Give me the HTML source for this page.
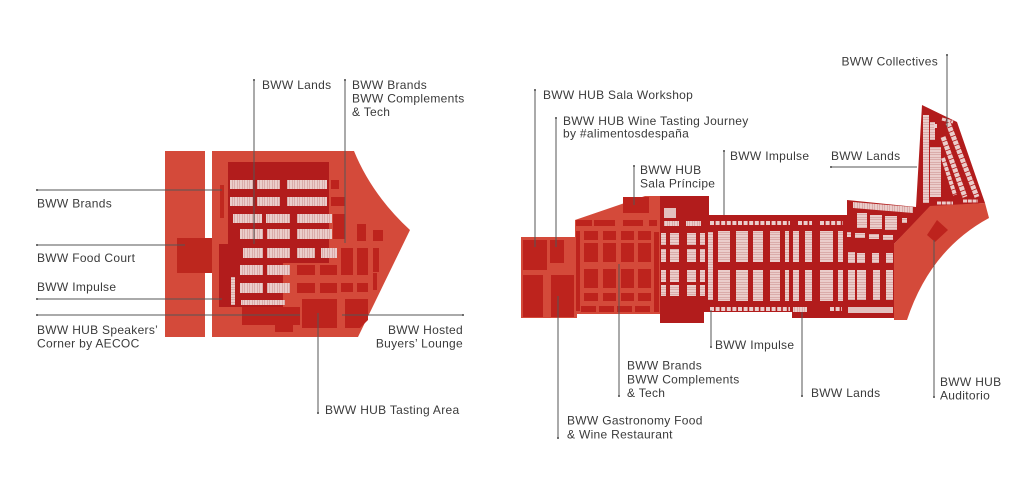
<!DOCTYPE html>
<html><head><meta charset="utf-8"><style>
html,body{margin:0;padding:0;background:#fff;}
svg{display:block;}
text{font-family:"Liberation Sans",sans-serif;font-size:12px;fill:#3a3a3a;letter-spacing:0.3px;}
</style></head><body>
<svg width="1024" height="493" viewBox="0 0 1024 493" xmlns="http://www.w3.org/2000/svg">
<defs>
<pattern id="sv" width="2.5" height="10" patternUnits="userSpaceOnUse"><rect width="2.5" height="10" fill="#ebcdcb"/><rect x="2" width="0.5" height="10" fill="#c98c88"/></pattern>
<pattern id="sh" width="10" height="2.5" patternUnits="userSpaceOnUse"><rect width="10" height="2.5" fill="#ebcdcb"/><rect y="2" width="10" height="0.5" fill="#c98c88"/></pattern>
</defs>
<rect width="1024" height="493" fill="#fff"/>

<!-- LEFT MAP -->
<rect x="165" y="151" width="40" height="186" fill="#d44a3a"/>
<path d="M212,151 L354,151 Q372,195 410,230 L358,337 L212,337 Z" fill="#d44a3a"/>
<rect x="177" y="238" width="35" height="35" fill="#bd271e"/>
<path d="M228,162 L329,162 L329,263 L283,263 L283,307 L219,307 L219,244 L228,244 Z" fill="#b21c1c"/>
<rect x="220" y="185" width="4" height="33" fill="#c0281f"/>
<rect x="231" y="277" width="4" height="28" fill="url(#sh)"/>
<g fill="url(#sv)">
<rect x="230" y="180" width="23" height="9"/><rect x="257" y="180" width="23" height="9"/><rect x="287" y="180" width="40" height="9"/>
<rect x="230" y="197" width="23" height="9"/><rect x="257" y="197" width="23" height="9"/><rect x="287" y="197" width="40" height="9"/>
<rect x="233" y="214" width="29" height="9"/><rect x="266" y="214" width="24" height="9"/><rect x="297" y="214" width="35" height="9"/>
<rect x="240" y="229" width="23" height="10"/><rect x="267" y="229" width="23" height="10"/><rect x="297" y="229" width="35" height="10"/>
<rect x="243" y="248" width="20" height="10"/><rect x="267" y="248" width="23" height="10"/><rect x="297" y="248" width="18" height="10"/><rect x="321" y="248" width="16" height="10"/>
<rect x="240" y="265" width="23" height="10"/><rect x="267" y="265" width="23" height="10"/>
<rect x="240" y="283" width="23" height="10"/><rect x="267" y="283" width="23" height="10"/>
<rect x="241" y="300" width="44" height="5"/>
</g>
<g fill="#bd231d">
<rect x="331" y="180" width="8" height="9"/>
<rect x="331" y="197" width="14" height="9"/>
<rect x="333" y="214" width="12" height="25"/>
<rect x="357" y="224" width="9" height="17"/>
<rect x="373" y="230" width="10" height="11"/>
<rect x="341" y="248" width="12" height="27"/>
<rect x="357" y="248" width="11" height="27"/>
<rect x="373" y="248" width="6" height="24"/>
<rect x="297" y="265" width="18" height="10"/>
<rect x="320" y="265" width="17" height="10"/>
<rect x="297" y="283" width="18" height="10"/>
<rect x="320" y="283" width="17" height="10"/>
<rect x="341" y="283" width="12" height="9"/>
<rect x="357" y="283" width="11" height="9"/>
<rect x="373" y="273" width="4" height="17"/>
<rect x="302" y="299" width="35" height="29"/>
<path d="M345,299 L368,299 L368,320 L360,328 L345,328 Z"/>
<rect x="242" y="307" width="58" height="18"/>
<rect x="275" y="319" width="18" height="13"/>
</g>

<!-- RIGHT MAP -->
<rect x="521" y="237" width="56" height="81" fill="#d44a3a"/>
<path d="M575,220 L645,196 L662,196 L662,314 L575,314 Z" fill="#d44a3a"/>
<path d="M660,196 L709,196 L709,215 L847,215 L847,200 L916,207 L922,105 L957,122 L985,203 L930,207 L894,244 L894,318 L792,318 L792,312 L704,312 L704,323 L660,323 Z" fill="#b21c1c"/>
<path d="M930,206 L985,203 L989,218 Q930,250 907,320 L894,320 L894,244 Z" fill="#d44a3a"/>
<polygon points="937,220 948,230 935,242 927,235" fill="#bd231d"/>

<g fill="#bd231d">
<rect x="523" y="240" width="24" height="30"/>
<rect x="550" y="240" width="14" height="23"/>
<rect x="523" y="275" width="20" height="42"/>
<rect x="551" y="275" width="23" height="42"/>
<rect x="623" y="197" width="26" height="16"/>
<rect x="576" y="220" width="16" height="6"/><rect x="594" y="220" width="21" height="6"/><rect x="623" y="220" width="20" height="6"/><rect x="649" y="220" width="8" height="6"/>
<rect x="576" y="231" width="4" height="80"/>
<rect x="654" y="232" width="5" height="80"/>
<rect x="584" y="231" width="14" height="9"/><rect x="603" y="231" width="13" height="9"/><rect x="621" y="231" width="13" height="9"/><rect x="638" y="231" width="13" height="9"/>
<rect x="584" y="243" width="14" height="19"/><rect x="603" y="243" width="13" height="19"/><rect x="621" y="243" width="13" height="19"/><rect x="638" y="243" width="13" height="19"/>
<rect x="584" y="269" width="14" height="19"/><rect x="603" y="269" width="13" height="19"/><rect x="621" y="269" width="13" height="19"/><rect x="638" y="269" width="13" height="19"/>
<rect x="584" y="293" width="14" height="8"/><rect x="603" y="293" width="13" height="8"/><rect x="621" y="293" width="13" height="8"/><rect x="638" y="293" width="13" height="8"/>
<rect x="581" y="306" width="15" height="6"/><rect x="599" y="306" width="15" height="6"/><rect x="617" y="306" width="15" height="6"/><rect x="635" y="306" width="15" height="6"/>
</g>

<rect x="664" y="208" width="12" height="10" fill="#e3c0be"/>
<g fill="url(#sv)">
<rect x="664" y="221" width="15" height="5"/><rect x="686" y="221" width="15" height="5"/>
<rect x="793" y="307" width="14" height="5"/>
</g>
<rect x="848" y="307" width="45" height="6" fill="#e3c0be"/>
<g stroke="#ebcdcb" stroke-width="4" stroke-dasharray="4 1.6">
<line x1="710" y1="223" x2="790" y2="223"/><line x1="798" y1="223" x2="812" y2="223"/><line x1="820" y1="223" x2="843" y2="223"/>
<line x1="710" y1="309" x2="790" y2="309"/><line x1="830" y1="309" x2="842" y2="309"/>
</g>
<g fill="url(#sh)">
<rect x="661" y="233" width="5" height="12"/><rect x="670" y="233" width="9" height="12"/><rect x="687" y="233" width="9" height="12"/><rect x="700" y="233" width="5" height="12"/>
<rect x="661" y="249" width="5" height="13"/><rect x="670" y="249" width="9" height="13"/><rect x="687" y="249" width="9" height="13"/><rect x="700" y="249" width="5" height="13"/>
<rect x="661" y="270" width="5" height="12"/><rect x="670" y="270" width="9" height="12"/><rect x="687" y="270" width="9" height="12"/><rect x="700" y="270" width="5" height="12"/>
<rect x="661" y="285" width="5" height="11"/><rect x="670" y="285" width="9" height="11"/><rect x="687" y="285" width="9" height="11"/><rect x="700" y="285" width="5" height="11"/>
<rect x="708" y="232" width="5" height="68"/>
<rect x="718" y="231" width="12" height="31"/><rect x="736" y="231" width="12" height="31"/><rect x="753" y="231" width="10" height="31"/><rect x="770" y="231" width="10" height="31"/><rect x="785" y="231" width="4" height="31"/><rect x="793" y="231" width="6" height="31"/><rect x="805" y="231" width="7" height="31"/><rect x="820" y="231" width="13" height="31"/><rect x="838" y="231" width="5" height="31"/>
<rect x="718" y="270" width="12" height="31"/><rect x="736" y="270" width="12" height="31"/><rect x="753" y="270" width="10" height="31"/><rect x="770" y="270" width="10" height="31"/><rect x="785" y="270" width="4" height="31"/><rect x="793" y="270" width="6" height="31"/><rect x="805" y="270" width="7" height="31"/><rect x="820" y="270" width="13" height="31"/><rect x="838" y="270" width="5" height="31"/>
<rect x="857" y="213" width="10" height="15"/><rect x="870" y="215" width="12" height="14"/><rect x="885" y="216" width="12" height="14"/><rect x="902" y="218" width="5" height="5"/>
<rect x="847" y="232" width="4" height="5"/><rect x="855" y="233" width="10" height="5"/><rect x="869" y="234" width="10" height="5"/><rect x="883" y="235" width="10" height="5"/>
<rect x="848" y="252" width="7" height="11"/><rect x="857" y="253" width="8" height="10"/><rect x="872" y="253" width="7" height="10"/><rect x="886" y="253" width="7" height="10"/>
<rect x="848" y="270" width="7" height="30"/><rect x="857" y="270" width="9" height="30"/><rect x="873" y="270" width="7" height="30"/><rect x="886" y="270" width="7" height="30"/>
<rect x="923" y="115" width="6" height="88"/>
<rect x="930" y="122" width="5" height="18"/>
<rect x="930" y="147" width="11" height="50"/>
</g>
<polygon points="853,202 913,207 913,213 853,208" fill="url(#sv)"/>
<g stroke="#ebcdcb" stroke-dasharray="4 0.8">
<line x1="948" y1="123" x2="977" y2="197" stroke-width="5"/>
<line x1="943" y1="137" x2="965" y2="197" stroke-width="5"/>
<line x1="943" y1="158" x2="955" y2="195" stroke-width="4"/>
<line x1="942" y1="119" x2="953" y2="122" stroke-width="3"/>
<line x1="937" y1="203" x2="953" y2="203" stroke-width="3"/>
<line x1="963" y1="201" x2="978" y2="201" stroke-width="3"/>
</g>
<rect x="934" y="124" width="3" height="4" fill="#ebcdcb"/>

<!-- CONNECTOR LINES -->
<g stroke="#555" stroke-width="1" fill="none">
<line x1="254" y1="80" x2="254" y2="244"/>
<line x1="345" y1="80" x2="345" y2="243"/>
<line x1="37" y1="190" x2="222" y2="190"/>
<line x1="37" y1="245" x2="185" y2="245"/>
<line x1="37" y1="299" x2="222" y2="299"/>
<line x1="37" y1="315" x2="300" y2="315"/>
<line x1="342" y1="315" x2="463" y2="315"/>
<line x1="318" y1="313" x2="318" y2="413"/>
<line x1="535" y1="90" x2="535" y2="247"/>
<line x1="556" y1="118" x2="556" y2="247"/>
<line x1="634" y1="166" x2="634" y2="205"/>
<line x1="724" y1="151" x2="724" y2="215"/>
<line x1="831" y1="167" x2="917" y2="167"/>
<line x1="947" y1="55" x2="947" y2="127"/>
<line x1="934" y1="240" x2="934" y2="397"/>
<line x1="802" y1="312" x2="802" y2="396"/>
<line x1="711" y1="310" x2="711" y2="347"/>
<line x1="619" y1="264" x2="619" y2="396"/>
<line x1="558" y1="296" x2="558" y2="438"/>
</g>
<g fill="#444">
<circle cx="254" cy="80" r="1"/><circle cx="345" cy="80" r="1"/><circle cx="37" cy="190" r="1"/><circle cx="37" cy="245" r="1"/><circle cx="37" cy="299" r="1"/><circle cx="37" cy="315" r="1"/><circle cx="463" cy="315" r="1"/><circle cx="318" cy="413" r="1"/>
<circle cx="535" cy="90" r="1"/><circle cx="556" cy="118" r="1"/><circle cx="634" cy="166" r="1"/><circle cx="724" cy="151" r="1"/><circle cx="831" cy="167" r="1"/><circle cx="947" cy="55" r="1"/><circle cx="934" cy="397" r="1"/><circle cx="802" cy="396" r="1"/><circle cx="711" cy="347" r="1"/><circle cx="619" cy="396" r="1"/><circle cx="558" cy="438" r="1"/>
</g>

<!-- LABELS -->
<text x="262" y="89">BWW Lands</text>
<text x="352" y="89">BWW Brands</text>
<text x="352" y="102.5">BWW Complements</text>
<text x="352" y="116">&amp; Tech</text>
<text x="37" y="207.5">BWW Brands</text>
<text x="37" y="262">BWW Food Court</text>
<text x="37" y="291">BWW Impulse</text>
<text x="37" y="334">BWW HUB Speakers’</text>
<text x="37" y="347.5">Corner by AECOC</text>
<text x="463" y="334" text-anchor="end">BWW Hosted</text>
<text x="463" y="347.5" text-anchor="end">Buyers’ Lounge</text>
<text x="325" y="414">BWW HUB Tasting Area</text>

<text x="543" y="99">BWW HUB Sala Workshop</text>
<text x="563" y="125">BWW HUB Wine Tasting Journey</text>
<text x="563" y="137.5">by #alimentosdespaña</text>
<text x="640" y="174">BWW HUB</text>
<text x="640" y="187.5">Sala Príncipe</text>
<text x="730" y="160">BWW Impulse</text>
<text x="831" y="160">BWW Lands</text>
<text x="938" y="65.5" text-anchor="end">BWW Collectives</text>
<text x="715" y="349">BWW Impulse</text>
<text x="627" y="369.5">BWW Brands</text>
<text x="627" y="383.5">BWW Complements</text>
<text x="627" y="397">&amp; Tech</text>
<text x="811" y="397">BWW Lands</text>
<text x="567" y="424.5">BWW Gastronomy Food</text>
<text x="567" y="438.5">&amp; Wine Restaurant</text>
<text x="940" y="386">BWW HUB</text>
<text x="940" y="399.5">Auditorio</text>
</svg>
</body></html>
